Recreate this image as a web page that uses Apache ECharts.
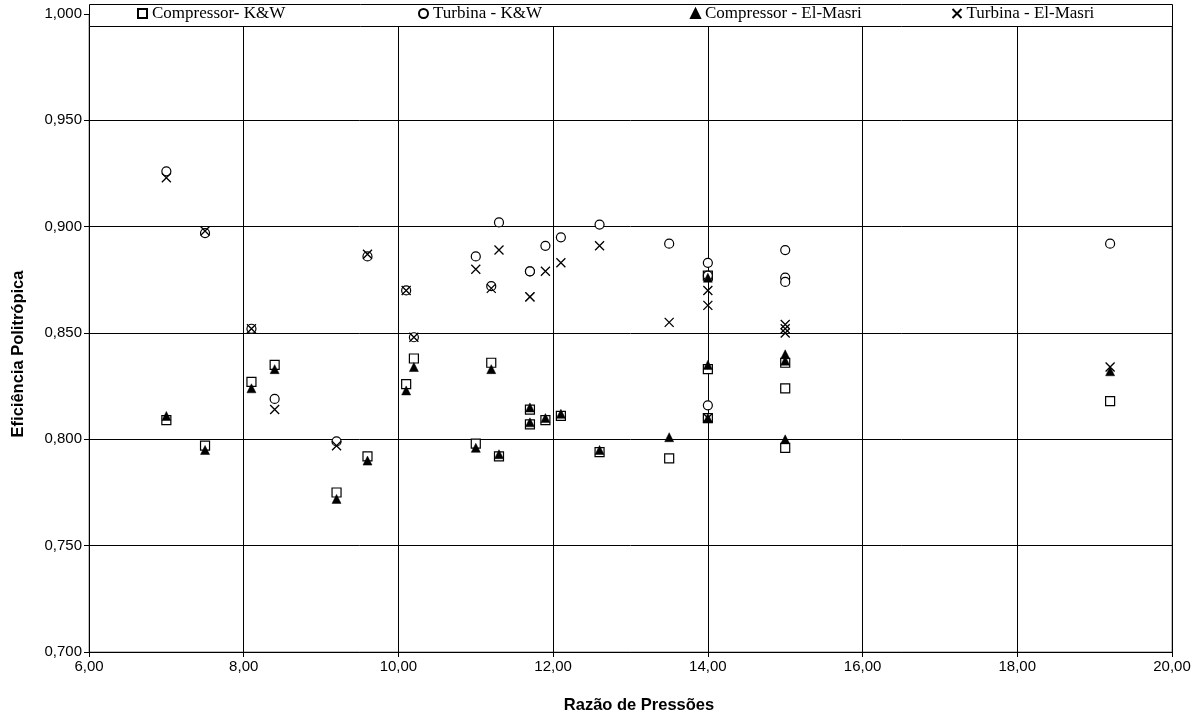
<!DOCTYPE html>
<html>
<head>
<meta charset="utf-8">
<script src="https://cdn.jsdelivr.net/npm/echarts@6/dist/echarts.min.js"></script>
<style>html,body{margin:0;padding:0;background:#fff}#c{width:1201px;height:718px}</style>
</head>
<body>
<div id="c"></div>
<script>
// Pressure ratio (x) shared by all four series
const pressureRatio = [7.0, 7.5, 8.1, 8.4, 9.2, 9.6, 10.1, 10.2, 11.0, 11.2, 11.3, 11.7, 11.7, 11.9, 12.1, 12.6, 13.5, 14.0, 14.0, 14.0, 15.0, 15.0, 15.0, 19.2];
const compressorKW = [0.809, 0.797, 0.827, 0.835, 0.775, 0.792, 0.826, 0.838, 0.798, 0.836, 0.792, 0.814, 0.807, 0.809, 0.811, 0.794, 0.791, 0.877, 0.833, 0.810, 0.836, 0.824, 0.796, 0.818];
const turbinaKW = [0.926, 0.897, 0.852, 0.819, 0.799, 0.886, 0.870, 0.848, 0.886, 0.872, 0.902, 0.879, 0.879, 0.891, 0.895, 0.901, 0.892, 0.883, 0.877, 0.816, 0.889, 0.876, 0.874, 0.892];
const compressorEM = [0.811, 0.795, 0.824, 0.833, 0.772, 0.790, 0.823, 0.834, 0.796, 0.833, 0.793, 0.815, 0.808, 0.810, 0.812, 0.795, 0.801, 0.876, 0.835, 0.810, 0.840, 0.837, 0.800, 0.832];
const turbinaEM = [0.923, 0.898, 0.852, 0.814, 0.797, 0.887, 0.870, 0.848, 0.880, 0.871, 0.889, 0.867, 0.867, 0.879, 0.883, 0.891, 0.855, 0.870, 0.863, 0.810, 0.854, 0.852, 0.850, 0.834];
const seriesNames = ['Compressor- K&W', 'Turbina - K&W', 'Compressor - El-Masri', 'Turbina - El-Masri'];
const xAxisTitle = 'Razão de Pressões';
const yAxisTitle = 'Eficiência Politrópica';

const pair = ys => pressureRatio.map((x, i) => [x, ys[i]]);
const crossPath = 'path://M0,0L10,10M10,0L0,10';

const chart = echarts.init(document.getElementById('c'), null, {renderer: 'canvas'});
const legendBase = {
  top: 5, itemWidth: 9, itemHeight: 9, padding: 0, z: 20,
  textStyle: {fontFamily: 'Liberation Serif', fontSize: 17, color: '#000'}
};
const titleFont = 'bold 16.5px "Liberation Sans"';
chart.setOption({
  animation: false,
  backgroundColor: '#fff',
  grid: {left: 89, right: 29, top: 14, bottom: 66, show: true, borderColor: '#808080', borderWidth: 1},
  graphic: [
    {type: 'rect', z: 10, left: 89, top: 4,
     shape: {width: 1083, height: 22},
     style: {fill: '#fff', stroke: '#000', lineWidth: 1}},
    {type: 'text', x: 639, y: 705, z: 10,
     style: {text: xAxisTitle, font: titleFont, fill: '#000', textAlign: 'center', textVerticalAlign: 'middle'}},
    {type: 'text', x: 18, y: 354, rotation: Math.PI / 2, z: 10,
     style: {text: yAxisTitle, font: titleFont, fill: '#000', textAlign: 'center', textVerticalAlign: 'middle'}}
  ],
  legend: [
    Object.assign({}, legendBase, {data: [seriesNames[0]], left: 137}),
    Object.assign({}, legendBase, {data: [seriesNames[1]], left: 418}),
    Object.assign({}, legendBase, {data: [seriesNames[2]], left: 690}),
    Object.assign({}, legendBase, {data: [seriesNames[3]], left: 950})
  ],
  xAxis: {
    type: 'value', min: 6, max: 20, interval: 2,
    axisLine: {onZero: false, lineStyle: {color: '#000', width: 1}},
    axisTick: {show: true, length: 5, lineStyle: {color: '#000'}},
    axisLabel: {fontFamily: 'Liberation Sans', fontSize: 15, color: '#000', margin: 7,
      formatter: v => v.toFixed(2).replace('.', ',')},
    splitLine: {show: true, lineStyle: {color: '#000', width: 1}}
  },
  yAxis: {
    type: 'value', min: 0.7, max: 1.0, interval: 0.05,
    axisLine: {onZero: false, lineStyle: {color: '#000', width: 1}},
    axisTick: {show: true, length: 5, lineStyle: {color: '#000'}},
    axisLabel: {fontFamily: 'Liberation Sans', fontSize: 15, color: '#000', margin: 7,
      formatter: v => v.toFixed(3).replace('.', ',')},
    splitLine: {show: true, lineStyle: {color: '#000', width: 1}}
  },
  series: [
    {name: seriesNames[0], type: 'scatter', data: pair(compressorKW), symbol: 'rect', symbolSize: 9,
     itemStyle: {color: '#fff', borderColor: '#000', borderWidth: 1.2, opacity: 1}, z: 2},
    {name: seriesNames[1], type: 'scatter', data: pair(turbinaKW), symbol: 'circle', symbolSize: 9,
     itemStyle: {color: '#fff', borderColor: '#000', borderWidth: 1.2, opacity: 1}, z: 3},
    {name: seriesNames[2], type: 'scatter', data: pair(compressorEM), symbol: 'triangle', symbolSize: 9,
     itemStyle: {color: '#000', borderColor: '#000', borderWidth: 0.5, opacity: 1}, z: 4},
    {name: seriesNames[3], type: 'scatter', data: pair(turbinaEM), symbol: crossPath, symbolSize: 9,
     itemStyle: {color: 'none', borderColor: '#000', borderWidth: 1.3, opacity: 1}, z: 5}
  ]
});
</script>
</body>
</html>
